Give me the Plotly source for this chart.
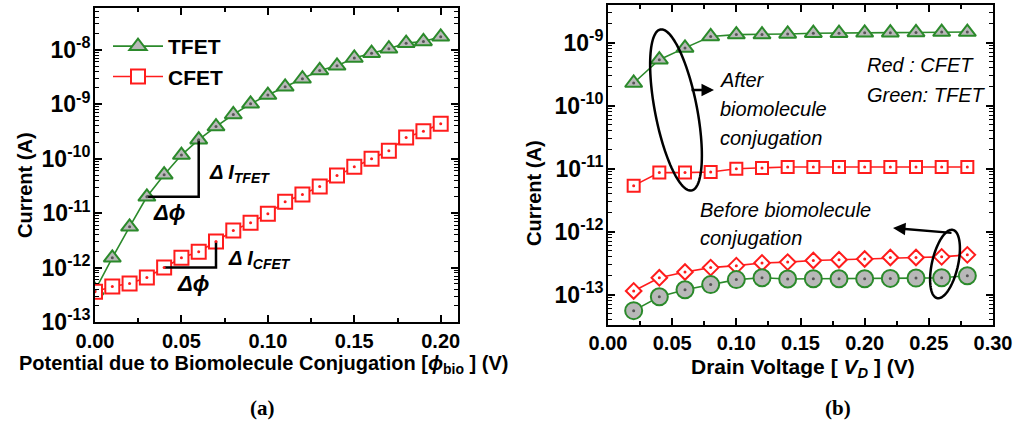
import numpy as np
import plotly.graph_objects as go

W, H = 1017, 429

# ---- panel (a): current vs. potential due to biomolecule conjugation ----
phi_bio = [0.00, 0.01, 0.02, 0.03, 0.04, 0.05, 0.06, 0.07, 0.08, 0.09, 0.10,
           0.11, 0.12, 0.13, 0.14, 0.15, 0.16, 0.17, 0.18, 0.19, 0.20]
i_tfet_a = [3.8e-13, 1.51e-12, 5.6e-12, 2.0e-11, 5.1e-11, 1.17e-10, 2.24e-10,
            3.9e-10, 6.5e-10, 1.02e-9, 1.48e-9, 2.1e-9, 2.95e-9, 4.2e-9,
            5.1e-9, 7.1e-9, 8.7e-9, 1.05e-8, 1.33e-8, 1.43e-8, 1.74e-8]
i_cfet_a = [3.6e-13, 4.5e-13, 5.1e-13, 6.6e-13, 1.0e-12, 1.51e-12, 1.95e-12,
            3.0e-12, 4.8e-12, 6.7e-12, 9.8e-12, 1.62e-11, 2.2e-11, 3.1e-11,
            4.9e-11, 7.1e-11, 1.0e-10, 1.4e-10, 2.45e-10, 3.2e-10, 4.4e-10]

# ---- panel (b): current vs. drain voltage ----
v_drain = [0.02, 0.04, 0.06, 0.08, 0.10, 0.12, 0.14,
           0.16, 0.18, 0.20, 0.22, 0.24, 0.26, 0.28]
i_tfet_after = [2.3e-10, 5.4e-10, 8.3e-10, 1.26e-9, 1.35e-9, 1.35e-9, 1.38e-9,
                1.42e-9, 1.42e-9, 1.44e-9, 1.45e-9, 1.46e-9, 1.48e-9, 1.48e-9]
i_cfet_after = [5.4e-12, 8.7e-12, 8.7e-12, 8.9e-12, 1.0e-11, 1.03e-11, 1.07e-11,
                1.07e-11, 1.07e-11, 1.07e-11, 1.07e-11, 1.07e-11, 1.07e-11, 1.07e-11]
i_cfet_before = [1.15e-13, 1.86e-13, 2.3e-13, 2.7e-13, 2.9e-13, 3.2e-13, 3.3e-13,
                 3.5e-13, 3.6e-13, 3.7e-13, 3.9e-13, 3.9e-13, 4.0e-13, 4.3e-13]
i_tfet_before = [5.6e-14, 9.3e-14, 1.2e-13, 1.45e-13, 1.74e-13, 1.86e-13, 1.78e-13,
                 1.8e-13, 1.8e-13, 1.8e-13, 1.82e-13, 1.84e-13, 1.86e-13, 2.0e-13]

# ---- tick labels ----
decades_a = [-13, -12, -11, -10, -9, -8]
decades_b = [-13, -12, -11, -10, -9]
x_ticks_a = [0.00, 0.05, 0.10, 0.15, 0.20]
x_ticks_b = [0.00, 0.05, 0.10, 0.15, 0.20, 0.25, 0.30]

GREEN = "#2b8a2b"
RED = "#ff1c1c"
GREY = "#b8b8b8"
FONT = "Arial, Liberation Sans, sans-serif"
SERIF = "Times New Roman, Liberation Serif, serif"


def px(x):
    return x / W


def py(y):
    return 1 - y / H


def minor_log(lo, hi):
    vals = []
    for d in range(lo, hi + 1):
        for k in range(2, 10):
            vals.append(k * 10.0 ** d)
    return vals


def ellipse_path(cx, cy, a, b, tilt_deg, n=120):
    t = np.radians(tilt_deg)
    ux, uy = -np.sin(t), -np.cos(t)
    vx, vy = np.cos(t), -np.sin(t)
    s = np.linspace(0, 2 * np.pi, n)
    xs = cx + a * np.cos(s) * ux + b * np.sin(s) * vx
    ys = cy + a * np.cos(s) * uy + b * np.sin(s) * vy
    pts = [f"{px(x):.5f},{py(y):.5f}" for x, y in zip(xs, ys)]
    return "M " + " L ".join(pts) + " Z"


fig = go.Figure()

# panel (a) curves
fig.add_trace(go.Scatter(
    x=phi_bio, y=i_tfet_a, name="TFET", mode="lines+markers",
    line=dict(color=GREEN, width=1.6),
    marker=dict(symbol="triangle-up", size=15, color=GREY,
                line=dict(color=GREEN, width=2)),
    xaxis="x", yaxis="y"))
fig.add_trace(go.Scatter(
    x=phi_bio, y=i_cfet_a, name="CFET", mode="lines+markers",
    line=dict(color=RED, width=1.6),
    marker=dict(symbol="square", size=14, color="white",
                line=dict(color=RED, width=2)),
    xaxis="x", yaxis="y"))

# slope guides (delta I over delta phi)
fig.add_trace(go.Scatter(
    x=[phi_bio[3], phi_bio[6], phi_bio[6]],
    y=[i_tfet_a[3], i_tfet_a[3], i_tfet_a[6]],
    mode="lines", line=dict(color="black", width=2.5),
    showlegend=False, xaxis="x", yaxis="y", hoverinfo="skip"))
fig.add_trace(go.Scatter(
    x=[phi_bio[4], phi_bio[7], phi_bio[7]],
    y=[i_cfet_a[4], i_cfet_a[4], i_cfet_a[7]],
    mode="lines", line=dict(color="black", width=2.5),
    showlegend=False, xaxis="x", yaxis="y", hoverinfo="skip"))

# centre dots of the panel (a) markers
fig.add_trace(go.Scatter(x=phi_bio, y=i_tfet_a, mode="markers",
                         marker=dict(size=3, color="#555555"),
                         showlegend=False, xaxis="x", yaxis="y"))
fig.add_trace(go.Scatter(x=phi_bio, y=i_cfet_a, mode="markers",
                         marker=dict(size=3, color=RED),
                         showlegend=False, xaxis="x", yaxis="y"))

# panel (b) curves
series_b = [
    (i_tfet_after, "triangle-up", 15, GREY, GREEN, "#555555"),
    (i_cfet_after, "square", 12, "white", RED, RED),
    (i_cfet_before, "diamond", 12, "white", RED, RED),
    (i_tfet_before, "circle", 17, GREY, GREEN, "#555555"),
]
for ys, sym, size, fill, edge, dot in series_b:
    fig.add_trace(go.Scatter(
        x=v_drain, y=ys, mode="lines+markers", showlegend=False,
        line=dict(color=edge, width=1.6),
        marker=dict(symbol=sym, size=size, color=fill,
                    line=dict(color=edge, width=2)),
        xaxis="x2", yaxis="y2"))
    fig.add_trace(go.Scatter(
        x=v_drain, y=ys, mode="markers", showlegend=False,
        marker=dict(size=3, color=dot), xaxis="x2", yaxis="y2"))

axis_common = dict(
    showline=True, linecolor="black", linewidth=2, mirror="allticks",
    ticks="inside", ticklen=7, tickwidth=1.5, tickcolor="black",
    showgrid=False, zeroline=False, automargin=False,
)
minor_x = dict(dtick=0.025, ticks="inside", ticklen=4, tickwidth=1.5,
               tickcolor="black", showgrid=False)

fig.update_layout(
    width=W, height=H,
    margin=dict(l=0, r=0, t=0, b=0),
    paper_bgcolor="white", plot_bgcolor="white",
    font=dict(family=FONT, color="black"),
    xaxis=dict(domain=[px(95), px(458)], anchor="y", range=[0, 0.21],
               tickvals=x_ticks_a, ticktext=[f"{v:.2f}" for v in x_ticks_a],
               tickfont=dict(size=20, weight="bold"), ticklabelstandoff=0,
               minor=minor_x, **axis_common),
    yaxis=dict(domain=[py(322), py(8)], anchor="x", type="log",
               range=[-13.0, -7.23],
               tickvals=[10.0 ** d for d in decades_a],
               ticktext=[f"10<sup>{d}</sup>" for d in decades_a],
               tickfont=dict(size=23, weight="bold"), ticklabelstandoff=-2,
               minor=dict(tickmode="array", tickvals=minor_log(-13, -8),
                          ticks="inside", ticklen=4, tickwidth=1,
                          tickcolor="black", showgrid=False),
               **axis_common),
    xaxis2=dict(domain=[px(608), px(993)], anchor="y2", range=[0, 0.30],
                tickvals=x_ticks_b, ticktext=[f"{v:.2f}" for v in x_ticks_b],
                tickfont=dict(size=20, weight="bold"), ticklabelstandoff=-1,
                minor=minor_x, **axis_common),
    yaxis2=dict(domain=[py(325), py(5)], anchor="x2", type="log",
                range=[-13.48, -8.40],
                tickvals=[10.0 ** d for d in decades_b],
                ticktext=[f"10<sup>{d}</sup>" for d in decades_b],
                tickfont=dict(size=23, weight="bold"), ticklabelstandoff=-2,
                minor=dict(tickmode="array", tickvals=minor_log(-14, -9),
                           ticks="inside", ticklen=4, tickwidth=1,
                           tickcolor="black", showgrid=False),
                **axis_common),
    legend=dict(x=px(108), y=py(26), xanchor="left", yanchor="top",
                bgcolor="rgba(0,0,0,0)", font=dict(size=21, weight="bold"),
                itemwidth=50, tracegroupgap=0),
    showlegend=True,
)

annotations = []


def text(x, y, s, size=20, anchor="center", italic=False, bold=False,
         angle=0, family=FONT):
    annotations.append(dict(
        x=px(x), y=py(y), xref="paper", yref="paper", text=s,
        showarrow=False, xanchor=anchor, yanchor="middle", textangle=angle,
        font=dict(family=family, size=size, color="black",
                  style="italic" if italic else "normal",
                  weight="bold" if bold else "normal")))


# axis titles
text(25, 185, "Current (A)", size=20, bold=True, angle=-90)
text(534, 193, "Current (A)", size=20, bold=True, angle=-90)
text(263, 364,
     "Potential due to Biomolecule Conjugation [<i>ϕ</i><sub>bio</sub> ] (V)",
     size=20, bold=True)
text(803, 368, "Drain Voltage [ <i>V</i><sub><i>D</i></sub> ] (V)",
     size=21, bold=True)

# slope labels in panel (a)
text(207, 173, "Δ <i>I</i><sub><i>TFET</i></sub>", size=20, anchor="left",
     bold=True, italic=True)
text(169, 213, "Δ<i>ϕ</i>", size=22, bold=True, italic=True)
text(226, 259, "Δ <i>I</i><sub><i>CFET</i></sub>", size=20, anchor="left",
     bold=True, italic=True)
text(193, 283, "Δ<i>ϕ</i>", size=22, bold=True, italic=True)

# notes in panel (b)
text(718, 80, "After", size=20, anchor="left", italic=True)
text(718, 109, "biomolecule", size=20, anchor="left", italic=True)
text(718, 138, "conjugation", size=20, anchor="left", italic=True)
text(865, 65, "Red : CFET", size=20, anchor="left", italic=True)
text(865, 95, "Green: TFET", size=20, anchor="left", italic=True)
text(698, 210, "Before biomolecule", size=20, anchor="left", italic=True)
text(698, 238, "conjugation", size=20, anchor="left", italic=True)

# sub-figure labels
text(262, 408, "(a)", size=21, bold=True, family=SERIF)
text(838, 408, "(b)", size=21, bold=True, family=SERIF)

# arrows from the grouping ellipses to their notes
for (hx, hy), (tx, ty) in [((714, 90), (690, 90)), ((893, 228), (953, 233))]:
    annotations.append(dict(
        x=px(hx), y=py(hy), xref="paper", yref="paper", text="",
        showarrow=True, ax=tx - hx, ay=ty - hy, axref="pixel", ayref="pixel",
        arrowhead=2, arrowsize=1, arrowwidth=2.5, arrowcolor="black"))

fig.update_layout(annotations=annotations)

fig.update_layout(shapes=[
    dict(type="path", xref="paper", yref="paper",
         path=ellipse_path(676, 110, 82, 21, 11),
         line=dict(color="black", width=2.5)),
    dict(type="path", xref="paper", yref="paper",
         path=ellipse_path(945, 264, 35, 13, -13),
         line=dict(color="black", width=2.5)),
])

fig.write_html("out.html")
